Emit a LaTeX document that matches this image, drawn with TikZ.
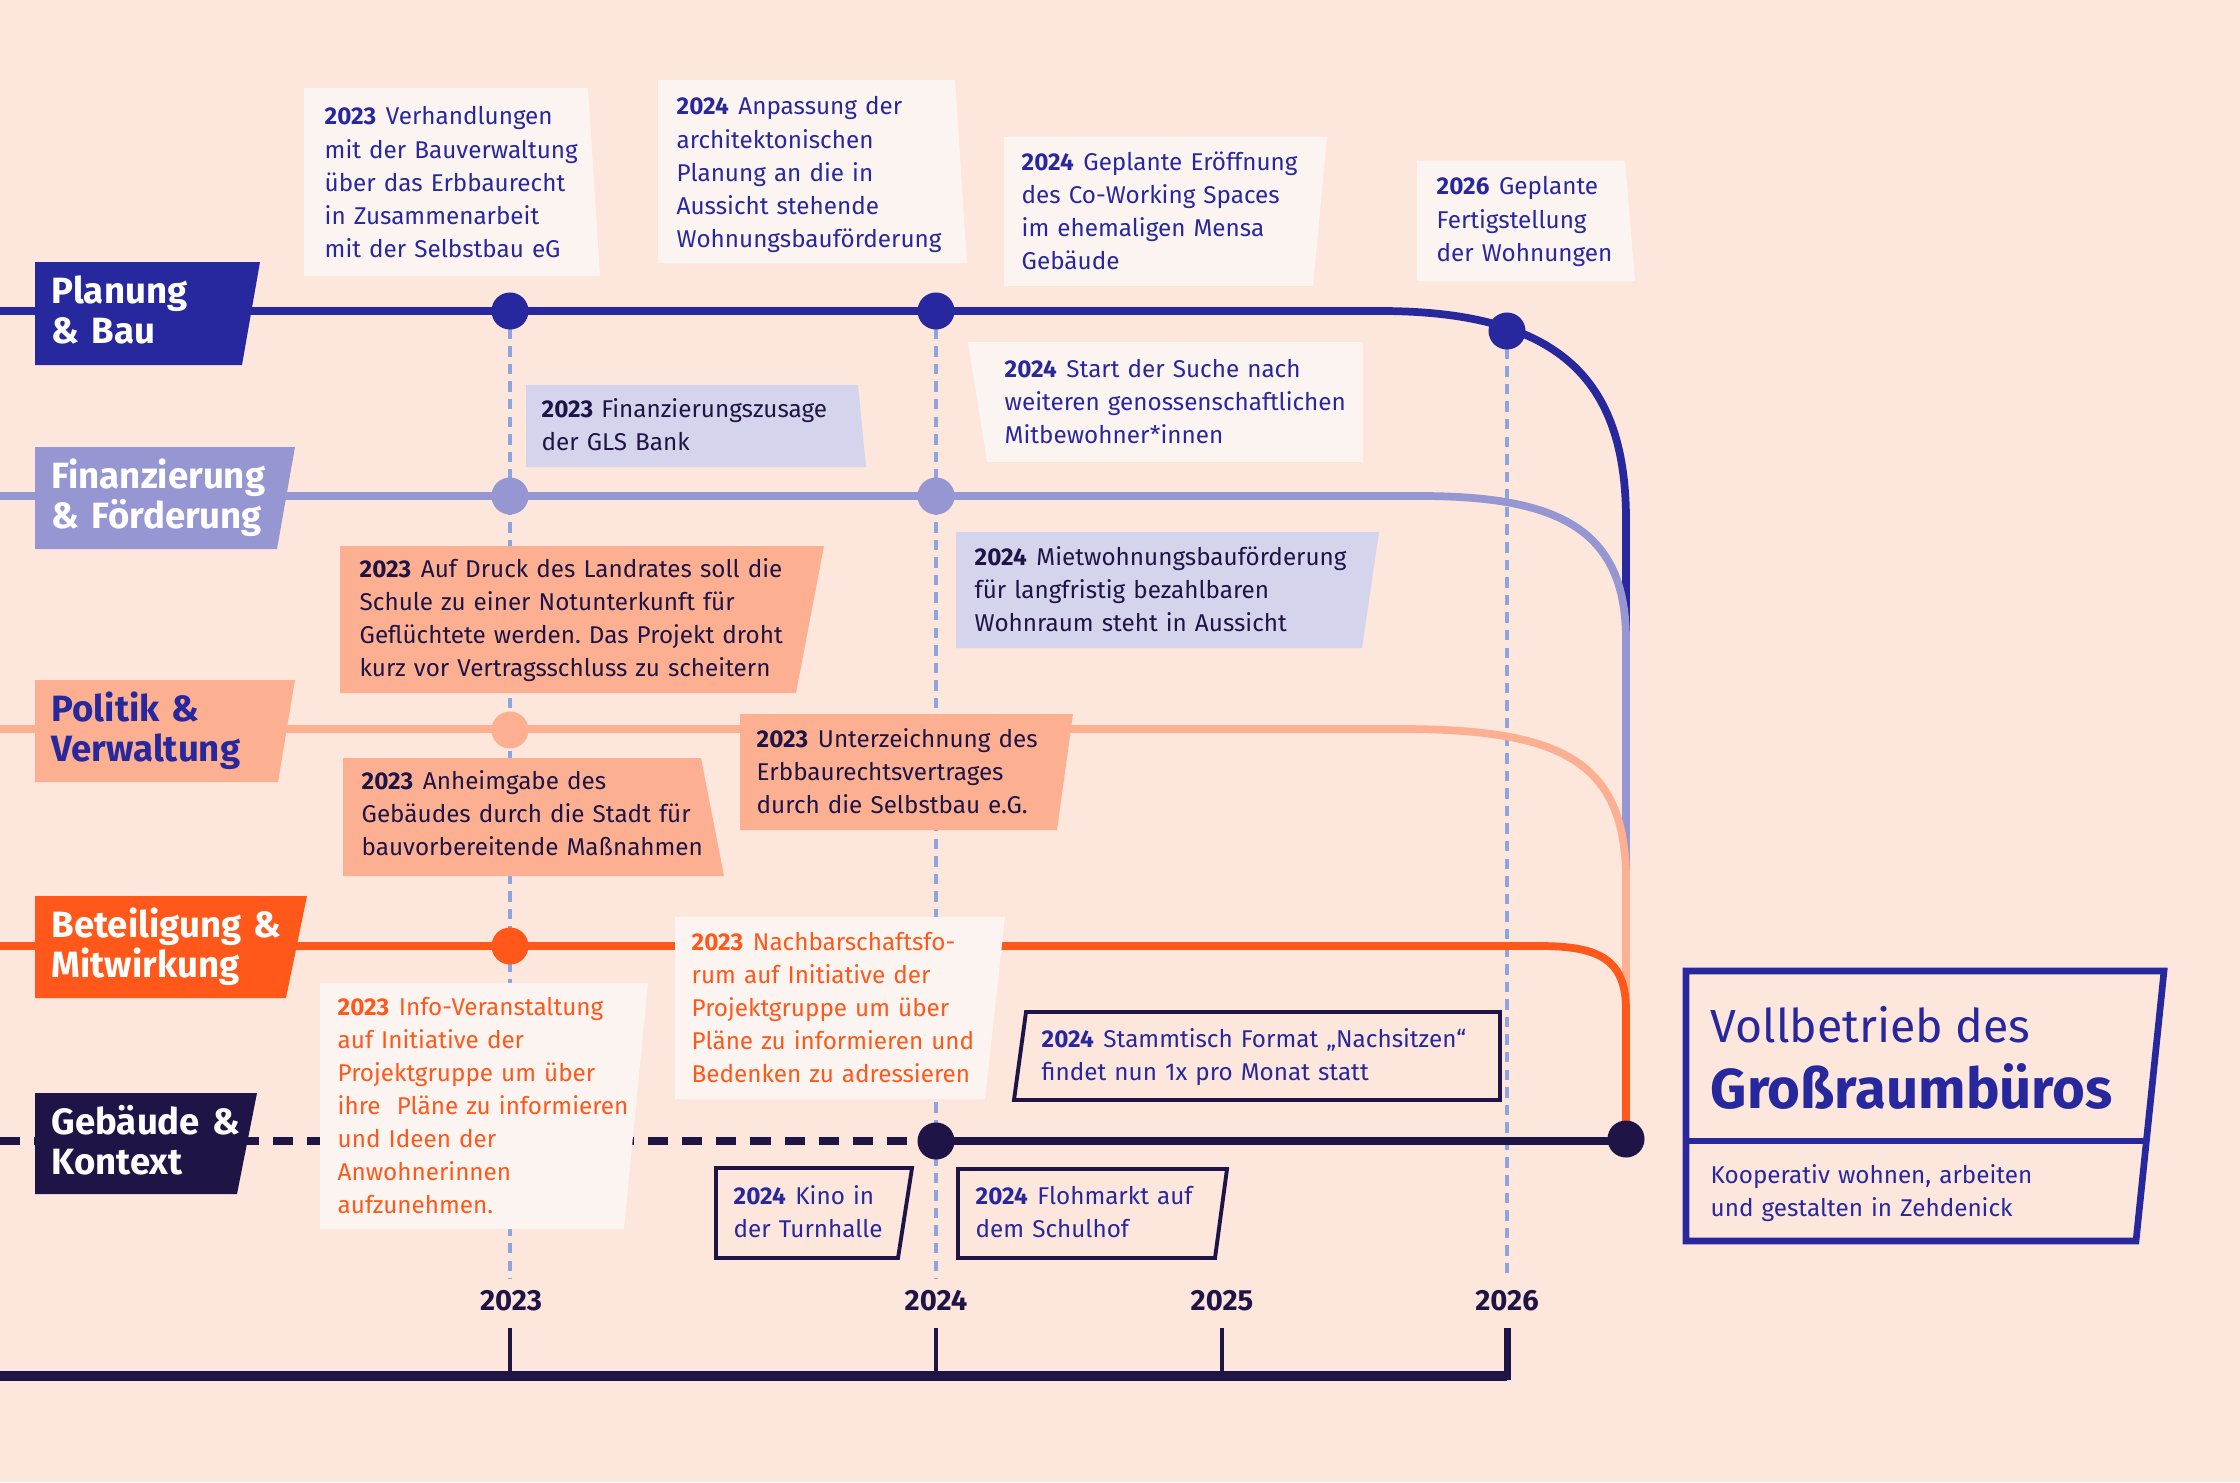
\documentclass[tikz,border=0pt]{standalone}
\usepackage{fontspec}
\setmainfont{Fira Sans}
\usetikzlibrary{positioning}
\definecolor{bg}{RGB}{253,230,220}
\definecolor{planBlue}{RGB}{40,40,158}
\definecolor{finLila}{RGB}{150,150,210}
\definecolor{finFill}{RGB}{212,212,236}
\definecolor{polLachs}{RGB}{252,176,145}
\definecolor{betOrange}{RGB}{255,88,26}
\definecolor{gebNavy}{RGB}{30,20,70}
\definecolor{boxHell}{RGB}{252,244,240}
\definecolor{guideBlau}{RGB}{140,165,225}
\newcommand{\jahr}[1]{{\bfseries #1}\hspace{0.4em}}
\frenchspacing

\begin{document}
\begin{tikzpicture}[x=0.01cm, y=-0.01cm,
    lane/.style={line width=2.2pt},
    dot/.style={circle, inner sep=0pt, minimum size=0.37cm},
    yearguide/.style={guideBlau, line width=1pt, dash pattern=on 3pt off 2pt},
    lanelabel/.style={anchor=base west, inner sep=0pt, text width=3cm, align=left, font=\fontsize{10.4}{11.4}\selectfont\bfseries},
    evtext/.style={anchor=base west, inner sep=0pt, text width=6cm, align=left, font=\fontsize{6.9}{9.4}\selectfont},
    yearlabel/.style={anchor=base, inner sep=0pt, text=gebNavy, font=\fontsize{8.3}{10}\selectfont\bfseries},
    outlinebox/.style={draw=gebNavy, fill=bg, line width=1.1pt}
]
\useasboundingbox (0,0) rectangle (2240,1482);
\fill[bg] (0,0) rectangle (2240,1482);

% Hilfslinien der Jahre
\draw[yearguide] (510,311) -- (510,1279);
\draw[yearguide] (936,311) -- (936,1279);
\draw[yearguide] (1507,331) -- (1507,1279);

% Zeitachse
\draw[gebNavy, line width=2.6pt] (0,1376) -- (1507,1376);
\draw[gebNavy, line width=0.9pt] (510,1328) -- (510,1376);
\draw[gebNavy, line width=0.9pt] (936,1328) -- (936,1376);
\draw[gebNavy, line width=0.9pt] (1222,1328) -- (1222,1376);
\draw[gebNavy, line width=2pt] (1507,1328) -- (1507,1380);
\node[yearlabel] (y23) at (511,1310) {2023};
\node[yearlabel] (y24) at (936,1310) {2024};
\node[yearlabel] (y25) at (1222,1310) {2025};
\node[yearlabel] (y26) at (1507,1310) {2026};

% Spuren
\draw[lane, planBlue] (0,311) -- (1380,311) .. controls (1560,311) and (1626,380) .. (1626,520) -- (1626,1139);
\draw[lane, finLila] (0,496) -- (1420,496) .. controls (1560,496) and (1626,530) .. (1626,640) -- (1626,1139);
\draw[lane, polLachs] (0,729) -- (1400,729) .. controls (1560,729) and (1626,760) .. (1626,880) -- (1626,1139);
\draw[lane, betOrange] (0,946) -- (1540,946) .. controls (1600,946) and (1626,960) .. (1626,1010) -- (1626,1139);
\draw[lane, gebNavy, dash pattern=on 5.7pt off 4pt] (0,1141) -- (936,1141);
\draw[lane, gebNavy] (936,1141) -- (1626,1141);

% Planung & Bau
\fill[boxHell] (304,88) -- (588,88) -- (600,276) -- (304,276) -- cycle;
\node[evtext, text=planBlue] (verhandlungen) at (324,125) {\jahr{2023}Verhandlungen\\mit der Bauverwaltung\\über das Erbbaurecht\\in Zusammenarbeit\\mit der Selbstbau eG};
\fill[boxHell] (658,80) -- (955,80) -- (967,263) -- (658,263) -- cycle;
\node[evtext, text=planBlue] (anpassung) at (676,115) {\jahr{2024}Anpassung der\\architektonischen\\Planung an die in\\Aussicht stehende\\Wohnungsbauförderung};
\fill[boxHell] (1004,137) -- (1327,137) -- (1313,286) -- (1004,286) -- cycle;
\node[evtext, text=planBlue] (eroeffnung) at (1021,170) {\jahr{2024}Geplante Eröffnung\\des Co-Working Spaces\\im ehemaligen Mensa\\Gebäude};
\fill[boxHell] (1417,161) -- (1625,161) -- (1635,281) -- (1417,281) -- cycle;
\node[evtext, text=planBlue] (fertig) at (1436,195) {\jahr{2026}Geplante\\Fertigstellung\\der Wohnungen};
\fill[boxHell] (968,342) -- (1363,342) -- (1363,462) -- (987,462) -- cycle;
\node[evtext, text=planBlue] (suche) at (1004,377) {\jahr{2024}Start der Suche nach\\weiteren genossenschaftlichen\\Mitbewohner*innen};

% Finanzierung & Förderung
\fill[finFill] (526,385) -- (858,385) -- (866,467) -- (526,467) -- cycle;
\node[evtext, text=gebNavy] (zusage) at (541,417) {{\bfseries 2023} Finanzierungszusage\\der GLS Bank};
\fill[finFill] (956,532) -- (1379,532) -- (1362,648) -- (956,648) -- cycle;
\node[evtext, text=gebNavy] (mietwohnung) at (974,565) {\jahr{2024}Mietwohnungsbauförderung\\für langfristig bezahlbaren\\Wohnraum steht in Aussicht};

% Politik & Verwaltung
\fill[polLachs] (340,546) -- (824,546) -- (796,693) -- (340,693) -- cycle;
\node[evtext, text=gebNavy] (landrat) at (359,577) {\jahr{2023}Auf Druck des Landrates soll die\\Schule zu einer Notunterkunft für\\Geflüchtete werden. Das Projekt droht\\kurz vor Vertragsschluss zu scheitern};
\fill[polLachs] (343,758) -- (701,758) -- (724,876) -- (343,876) -- cycle;
\node[evtext, text=gebNavy] (anheimgabe) at (361,789) {\jahr{2023}Anheimgabe des\\Gebäudes durch die Stadt für\\bauvorbereitende Maßnahmen};
\fill[polLachs] (740,714) -- (1073,714) -- (1057,830) -- (740,830) -- cycle;
\node[evtext, text=gebNavy] (vertrag) at (756,747) {\jahr{2023}Unterzeichnung des\\Erbbaurechtsvertrages\\durch die Selbstbau e.G.};

% Beteiligung & Mitwirkung
\fill[boxHell] (320,983) -- (648,983) -- (624,1229) -- (320,1229) -- cycle;
\node[evtext, text=betOrange] (infoabend) at (337,1015) {\jahr{2023}Info-Veranstaltung\\auf Initiative der\\Projektgruppe um über\\ihre\ \ Pläne zu informieren\\und Ideen der\\Anwohnerinnen\\aufzunehmen.};
\fill[boxHell] (675,917) -- (1005,917) -- (985,1099) -- (675,1099) -- cycle;
\node[evtext, text=betOrange] (forum) at (691,950) {\jahr{2023}Nachbarschaftsfo-\\rum auf Initiative der\\Projektgruppe um über\\Pläne zu informieren und\\Bedenken zu adressieren};

% Gebäude & Kontext
\draw[outlinebox] (1026,1012) -- (1500,1012) -- (1500,1100) -- (1014,1100) -- cycle;
\node[evtext, text=planBlue] (stammtisch) at (1041,1047) {\jahr{2024}Stammtisch Format „Nachsitzen“\\findet nun 1x pro Monat statt};
\draw[outlinebox] (716,1168) -- (912,1168) -- (898,1258) -- (716,1258) -- cycle;
\node[evtext, text=planBlue] (kino) at (733,1204) {\jahr{2024}Kino in\\der Turnhalle};
\draw[outlinebox] (958,1169) -- (1227,1169) -- (1215,1258) -- (958,1258) -- cycle;
\node[evtext, text=planBlue] (flohmarkt) at (975,1204) {\jahr{2024}Flohmarkt auf\\dem Schulhof};

% Spurbeschriftungen
\fill[planBlue] (35,262) -- (260,262) -- (242,365) -- (35,365) -- cycle;
\node[lanelabel, text=white] (planung) at (51,303) {Planung\\\& Bau};
\fill[finLila] (35,447) -- (295,447) -- (277,549) -- (35,549) -- cycle;
\node[lanelabel, text=white] (finanzierung) at (51,488) {Finanzierung\\\& Förderung};
\fill[polLachs] (35,680) -- (295,680) -- (278,782) -- (35,782) -- cycle;
\node[lanelabel, text=planBlue] (politik) at (51,721) {Politik \&\\Verwaltung};
\fill[betOrange] (35,896) -- (307,896) -- (286,998) -- (35,998) -- cycle;
\node[lanelabel, text=white] (beteiligung) at (51,937) {Beteiligung \&\\Mitwirkung};
\fill[gebNavy] (35,1093) -- (257,1093) -- (237,1194) -- (35,1194) -- cycle;
\node[lanelabel, text=white] (gebaeude) at (51,1134) {Gebäude \&\\Kontext};

% Meilensteine
\node[dot, fill=planBlue] (p23) at (510,311) {};
\node[dot, fill=planBlue] (p24) at (936,311) {};
\node[dot, fill=planBlue] (p26) at (1507,331) {};
\node[dot, fill=finLila] (f23) at (510,496) {};
\node[dot, fill=finLila] (f24) at (936,496) {};
\node[dot, fill=polLachs] (v23) at (510,730) {};
\node[dot, fill=betOrange] (b23) at (510,946) {};
\node[dot, fill=gebNavy] (g24) at (936,1141) {};
\node[dot, fill=gebNavy] (ziel) at (1626,1139) {};

% Ziel
\draw[planBlue, line width=1.9pt] (1686,971) -- (2164,971) -- (2136,1241) -- (1686,1241) -- cycle;
\draw[planBlue, line width=1.9pt] (1686,1141) -- (2146,1141);
\node[anchor=base west, inner sep=0pt, text=planBlue, font=\fontsize{13.2}{15}\selectfont] (vollbetrieb) at (1710,1042) {Vollbetrieb des};
\node[anchor=base west, inner sep=0pt, text=planBlue, font=\fontsize{16}{18}\selectfont\bfseries] (buero) at (1710,1108) {Großraumbüros};
\node[evtext, text=planBlue] (motto) at (1710,1183) {Kooperativ wohnen, arbeiten\\und gestalten in Zehdenick};
\end{tikzpicture}
\end{document}
